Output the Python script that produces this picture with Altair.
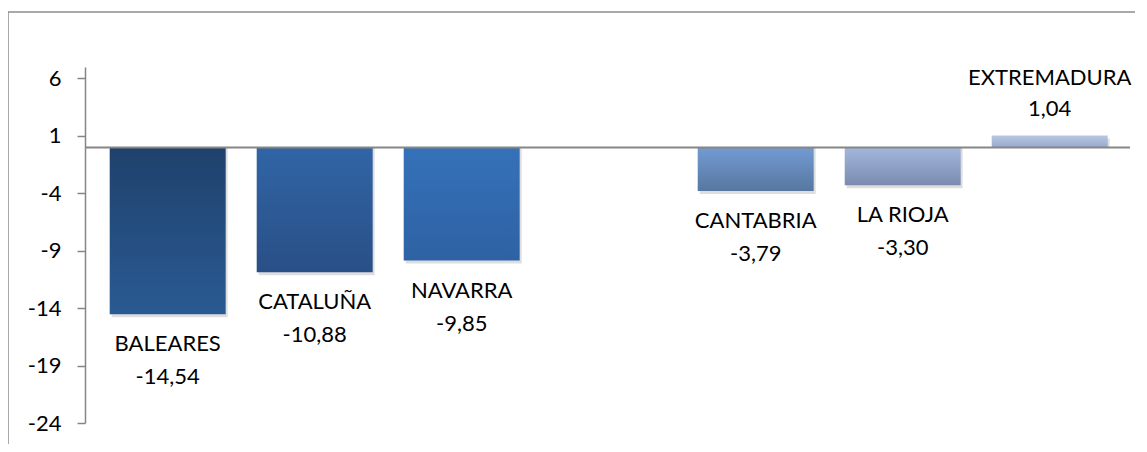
import altair as alt
import pandas as pd

slots = ["BALEARES", "CATALUÑA", "NAVARRA", "_gap", "CANTABRIA", "LA RIOJA", "EXTREMADURA"]
regions = ["BALEARES", "CATALUÑA", "NAVARRA", "CANTABRIA", "LA RIOJA", "EXTREMADURA"]
values = [-14.54, -10.88, -9.85, -3.79, -3.30, 1.04]
labels = ["-14,54", "-10,88", "-9,85", "-3,79", "-3,30", "1,04"]
top_colors = ["#1F416C", "#3165A6", "#3571B9", "#739BD3", "#A3B7DD", "#B9C7E3"]
bottom_colors = ["#2A5A93", "#294F86", "#2E62A4", "#57779F", "#7A8BAE", "#97A9CD"]
y_ticks = [6, 1, -4, -9, -14, -19, -24]

df = pd.DataFrame({"region": regions, "value": values, "label": labels})

FONT = "Lato"
FS = 22
W, H = 1045, 356

xenc = alt.X("region:N",
             scale=alt.Scale(domain=slots, range=[24.7, 1022.7], paddingInner=0.211, paddingOuter=0),
             axis=None)
yscale = alt.Scale(domain=[-24, 7], nice=False, zero=False)

base = alt.Chart(df)
frame = pd.DataFrame({"a": [0]})

layers = []

# border of the chart area (left and top edges)
layers.append(alt.Chart(frame).mark_rule(color="#8C8C8C", strokeWidth=1.5).encode(
    x=alt.value(-77), y=alt.value(-55), y2=alt.value(420)))
layers.append(alt.Chart(frame).mark_rule(color="#8C8C8C", strokeWidth=1.5).encode(
    x=alt.value(-77), x2=alt.value(1100), y=alt.value(-55)))

# axis carrier
layers.append(base.mark_bar(opacity=0).encode(
    x=xenc,
    y=alt.Y("value:Q", scale=yscale,
            axis=alt.Axis(values=y_ticks, title=None, grid=False,
                          domainColor="#868686", domainWidth=1.5,
                          tickColor="#868686", tickSize=8, tickWidth=1.5,
                          labelFont=FONT, labelFontSize=FS, labelColor="#000000",
                          labelPadding=16, labelExpr="datum.value + ''")),
))

# shadows
layers.append(base.mark_bar(color="#000000", opacity=0.13, xOffset=2, yOffset=3).encode(
    x=xenc, y=alt.Y("value:Q", scale=yscale), y2=alt.datum(0)))

for r, t, b in zip(regions, top_colors, bottom_colors):
    grad = alt.Gradient(gradient="linear",
                        stops=[alt.GradientStop(color=t, offset=0),
                               alt.GradientStop(color=b, offset=1)],
                        x1=0, x2=0, y1=0, y2=1)
    layers.append(base.transform_filter(alt.datum.region == r).mark_bar(color=grad).encode(
        x=xenc, y=alt.Y("value:Q", scale=yscale), y2=alt.datum(0)))

# zero line
layers.append(alt.Chart(frame).transform_calculate(z="0").mark_rule(color="#868686", strokeWidth=2).encode(
    y=alt.Y("z:Q", scale=yscale), x=alt.value(0), x2=alt.value(W)))

txt = dict(font=FONT, fontSize=FS, color="#000000", baseline="middle", align="center")
neg = base.transform_filter(alt.datum.value < 0)
pos = base.transform_filter(alt.datum.value >= 0)
yv = alt.Y("value:Q", scale=yscale)
layers.append(neg.mark_text(dy=30, **txt).encode(x=xenc, y=yv, text="region:N"))
layers.append(neg.mark_text(dy=63, **txt).encode(x=xenc, y=yv, text="label:N"))
layers.append(pos.mark_text(dy=-57, **txt).encode(x=xenc, y=yv, text="region:N"))
layers.append(pos.mark_text(dy=-26, **txt).encode(x=xenc, y=yv, text="label:N"))

chart = alt.layer(*layers).properties(
    width=W, height=H,
    background="white",
    autosize=alt.AutoSizeParams(type="none"),
    padding={"left": 77, "top": 59, "right": 5, "bottom": 21},
).configure_view(strokeWidth=0)

chart.save("out.html", embed_options={"renderer": "svg", "actions": False})
